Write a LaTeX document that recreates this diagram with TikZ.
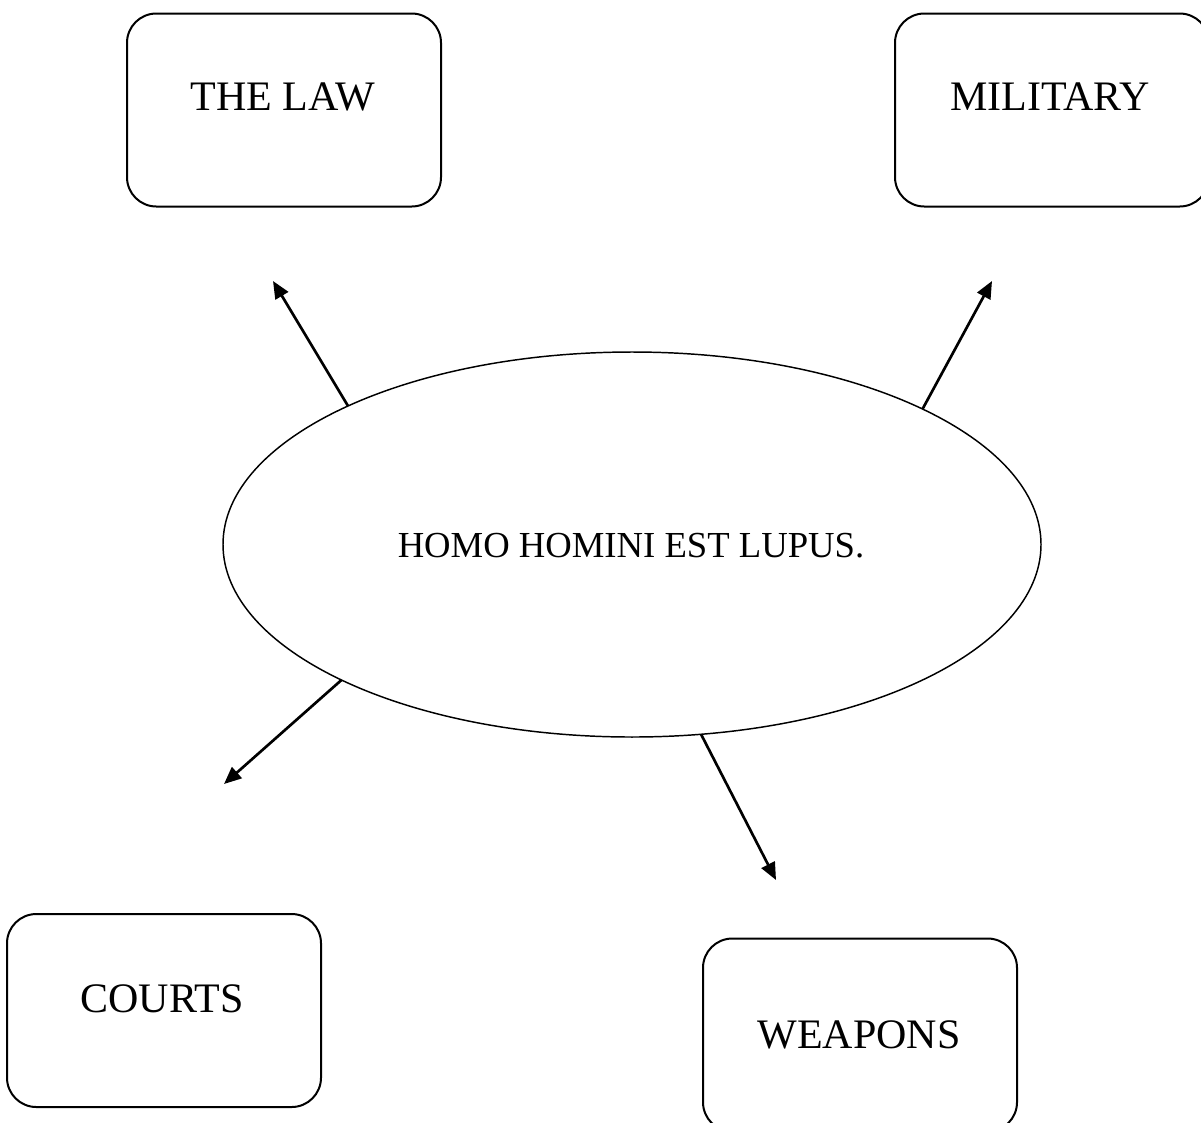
\documentclass[tikz,border=0pt]{standalone}
\usepackage{fontspec}
\setmainfont{Liberation Serif}
\usetikzlibrary{shapes.geometric,arrows.meta}
\begin{document}
\begin{tikzpicture}[x=0.75pt,y=-0.75pt,
  boxnode/.style={draw,line width=1.5pt,rounded corners=22pt,minimum width=235.5pt,minimum height=144.75pt,inner sep=0pt,outer sep=0pt},
  boxtext/.style={anchor=base,inner sep=0pt,font=\fontsize{31.5}{36}\selectfont},
  arr/.style={line width=2pt,-{Triangle[length=13pt,width=11pt]}}]
\useasboundingbox (0,0) rectangle (1201,1122);
\clip (0,0) rectangle (1201,1122);
\node[boxnode] (law) at (284,110) {};
\node[boxnode] (mil) at (1052,110) {};
\node[boxnode] (courts) at (164,1010.5) {};
\node[boxnode] (weap) at (860,1035) {};
\node[boxtext] (lawt) at (283,110) {THE LAW};
\node[boxtext] (milt) at (1050,110) {MILITARY};
\node[boxtext] (courtst) at (162,1012) {COURTS};
\node[boxtext] (weapt) at (859,1048) {WEAPONS};
\node[draw,ellipse,line width=1.1pt,minimum width=613.5pt,minimum height=288.75pt,inner sep=0pt,outer sep=0pt] (ell) at (632,544.5) {};
\node[anchor=base,inner sep=0pt,font=\fontsize{27.5}{32}\selectfont] (main) at (631,557) {HOMO HOMINI EST LUPUS.};
\coordinate (t1) at (273,281);
\coordinate (t2) at (992,281);
\coordinate (t3) at (224,784);
\coordinate (t4) at (776,880);
\draw[arr] (ell.154.6) -- (t1);
\draw[arr] (ell.25.3) -- (t2);
\draw[arr] (ell.205.4) -- (t3);
\draw[arr] (ell.290.4) -- (t4);
\end{tikzpicture}
\end{document}
